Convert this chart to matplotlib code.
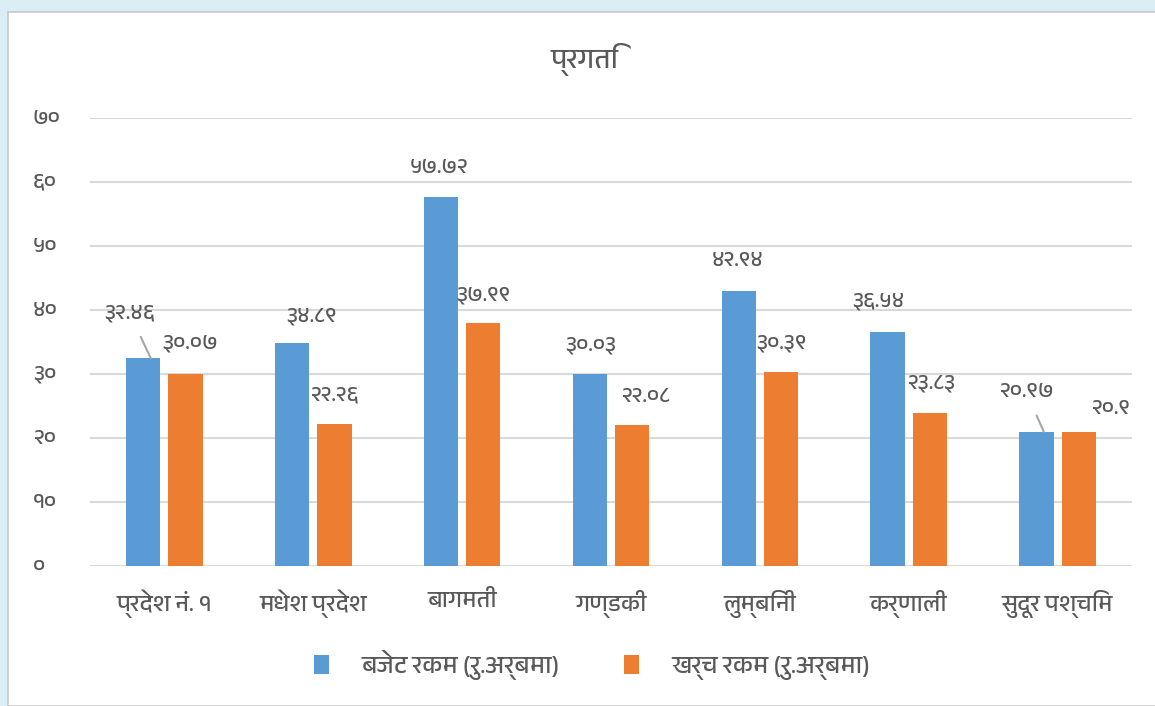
import numpy as np
import matplotlib
matplotlib.use("Agg")
import matplotlib.pyplot as plt
from matplotlib import font_manager
from matplotlib.ft2font import FT2Font
from matplotlib.patches import Rectangle

# data
categories = ["प्रदेश नं. १", "मधेश प्रदेश", "बागमती", "गण्डकी", "लुम्बिनी", "कर्णाली", "सुदूर पश्चिम"]
budget = [32.46, 34.89, 57.72, 30.03, 42.94, 36.54, 20.97]
expense = [30.07, 22.26, 37.99, 22.08, 30.39, 23.83, 20.9]
series_names = ["बजेट रकम (रु.अर्बमा)", "खर्च रकम (रु.अर्बमा)"]
yticks = [0, 10, 20, 30, 40, 50, 60, 70]
title = "प्रगति"

BLUE = "#5b9bd5"
ORANGE = "#ed7d31"
TEXT = "#595959"

DEV_DIGITS = str.maketrans("0123456789", "०१२३४५६७८९")


def dev(v):
    return f"{v:g}".translate(DEV_DIGITS)


def find_devanagari_font():
    found = []
    for f in font_manager.fontManager.ttflist:
        try:
            if 0x0915 in FT2Font(f.fname).get_charmap():
                found.append(f.name)
        except Exception:
            pass
    # prefer a dedicated Devanagari face if there is one
    found.sort(key=lambda n: "Devanagari" not in n)
    return found[0] if found else None


dfont = find_devanagari_font()
plt.rcParams["font.family"] = ([dfont] if dfont else []) + ["DejaVu Sans"]

fig = plt.figure(figsize=(11.55, 7.06), dpi=100, facecolor="#dceef5")
fig.patches.append(Rectangle((8 / 1155, 0), 1, 1 - 12 / 706, transform=fig.transFigure,
                             facecolor="white", edgecolor="#c8c8c8", lw=1.2, zorder=-10))

ax = fig.add_axes([90 / 1155, 1 - 566 / 706, (1132 - 90) / 1155, (566 - 118) / 706])
ax.set_facecolor("none")
ax.set_zorder(2)

x = np.arange(len(categories))
w = 0.23
off = 0.142
b1 = ax.bar(x - off, budget, w, color=BLUE, label=series_names[0], zorder=3)
b2 = ax.bar(x + off, expense, w, color=ORANGE, label=series_names[1], zorder=3)

ax.set_xlim(-0.5, len(categories) - 0.5)
ax.set_ylim(0, 70)
ax.set_yticks(yticks)
ax.set_yticklabels([])
for t in yticks:
    ax.text(-0.055, t, dev(t), transform=ax.get_yaxis_transform(), ha="left", va="center",
            fontsize=16, color=TEXT)
ax.set_xticks(x)
ax.set_xticklabels(categories)
ax.tick_params(axis="y", length=0)
ax.tick_params(axis="x", length=0, pad=17, labelsize=17, labelcolor=TEXT)
ax.grid(axis="y", color="#d9d9d9", lw=1.5, zorder=0)
for s in ax.spines.values():
    s.set_visible(False)

# Excel-style label offsets (pixels) from the top of each bar
budget_off = [(-21, 45), (19, 27), (-2, 29), (1, 29), (-1, 31), (-9, 31), (-18, 40)]
expense_off = [(4, 31), (0, 29), (0, 28), (13, 28), (0, 29), (1, 30), (32, 24)]
leader = {0, 6}

for i, (rect, v) in enumerate(zip(b1, budget)):
    cx = rect.get_x() + rect.get_width() / 2
    dx, dy = budget_off[i]
    ap = dict(arrowstyle="-", color="#a6a6a6", lw=1.5, shrinkA=9, shrinkB=0) if i in leader else None
    ax.annotate(dev(v), (cx + (0.05 if i in leader else 0), v), xytext=(dx, dy),
                textcoords="offset pixels", ha="center", va="center",
                fontsize=16, color=TEXT, arrowprops=ap, zorder=5)

for i, (rect, v) in enumerate(zip(b2, expense)):
    cx = rect.get_x() + rect.get_width() / 2
    dx, dy = expense_off[i]
    ax.annotate(dev(v), (cx, v), xytext=(dx, dy), textcoords="offset pixels",
                ha="center", va="center", fontsize=16, color=TEXT, zorder=5)

fig.text(585 / 1155, 1 - 60 / 706, title, ha="center", va="center", fontsize=20, color=TEXT)

fig.legend(handles=[b1, b2], loc="center", bbox_to_anchor=(592 / 1155, 1 - 665 / 706),
           ncol=2, frameon=False, fontsize=18, labelcolor=TEXT, handlelength=0.6,
           handleheight=0.8, columnspacing=2.6, handletextpad=1.3)

fig.savefig("out.png", dpi=100, facecolor=fig.get_facecolor())
